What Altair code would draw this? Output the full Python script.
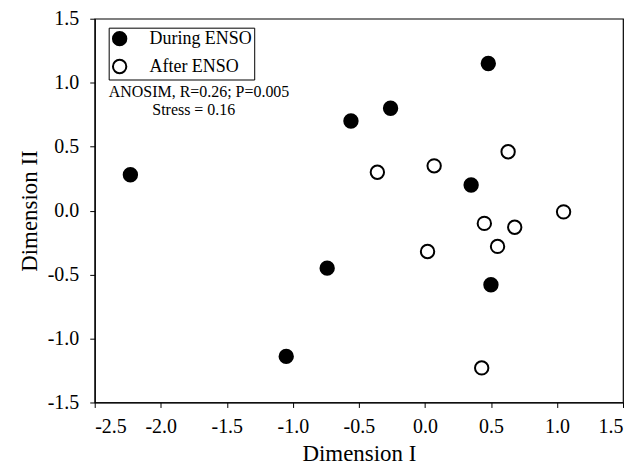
import altair as alt
import pandas as pd

during_x = [-2.23, -1.05, -0.74, -0.56, -0.26, 0.35, 0.48, 0.50]
during_y = [0.28, -1.14, -0.45, 0.70, 0.80, 0.20, 1.15, -0.58]
after_x = [-0.36, 0.07, 0.63, 1.05, 0.45, 0.68, 0.55, 0.02, 0.43]
after_y = [0.30, 0.35, 0.46, -0.01, -0.10, -0.13, -0.28, -0.32, -1.23]
groups = ["During ENSO", "After ENSO"]

ann_text = ["ANOSIM, R=0.26; P=0.005", "Stress = 0.16"]
ann_x = [-1.71, -1.75]
ann_y = [0.93, 0.79]

x_ticks = [-2.5, -2.0, -1.5, -1.0, -0.5, 0.0, 0.5, 1.0, 1.5]
y_ticks = [-1.5, -1.0, -0.5, 0.0, 0.5, 1.0, 1.5]

df = pd.DataFrame(
    {"x": during_x + after_x,
     "y": during_y + after_y,
     "g": [groups[0]] * len(during_x) + [groups[1]] * len(after_x)}
)
ann = pd.DataFrame({"t": ann_text, "x": ann_x, "y": ann_y})

font = "Liberation Serif"
xs = alt.Scale(domain=[-2.5, 1.5], nice=False, zero=False)
ys = alt.Scale(domain=[-1.5, 1.5], nice=False, zero=False)
lab = "(datum.value < 0 ? '-' : '') + format(abs(datum.value), '.1f')"

pts = alt.Chart(df).mark_point(filled=False, size=180, strokeWidth=2, opacity=1).encode(
    x=alt.X("x:Q", scale=xs, title="Dimension I",
            axis=alt.Axis(values=x_ticks, labelExpr=lab, labelPadding=9, titlePadding=6)),
    y=alt.Y("y:Q", scale=ys, title="Dimension II",
            axis=alt.Axis(values=y_ticks, labelExpr=lab, labelPadding=11, titlePadding=6)),
    fill=alt.Fill("g:N", scale=alt.Scale(domain=groups, range=["black", "white"]),
                  legend=alt.Legend(title=None, orient="none", legendX=14, legendY=9,
                                    strokeColor="black", padding=2, symbolSize=180,
                                    symbolStrokeWidth=2, symbolStrokeColor="black",
                                    labelFont=font, labelFontSize=18, labelColor="black",
                                    labelOffset=21, rowPadding=6, fillColor="white",
                                    labelLimit=300)),
    stroke=alt.value("black"),
)

txt = alt.Chart(ann).mark_text(font=font, fontSize=16, color="black").encode(
    x=alt.X("x:Q", scale=xs), y=alt.Y("y:Q", scale=ys), text="t:N"
)

chart = alt.layer(pts, txt).properties(
    width=530, height=385,
    autosize=alt.AutoSizeParams(type="none"),
    padding={"left": 87, "top": 10, "right": 5, "bottom": 66},
).configure_view(stroke="black", strokeWidth=1.2).configure_axis(
    grid=False, domainColor="black", tickColor="black", labelColor="black",
    titleColor="black", labelFont=font, titleFont=font, labelFontSize=20,
    titleFontSize=23, titleFontWeight="normal", tickSize=5, domainWidth=1.2
)

chart.save("out.html", embed_options={"renderer": "svg", "actions": False})
